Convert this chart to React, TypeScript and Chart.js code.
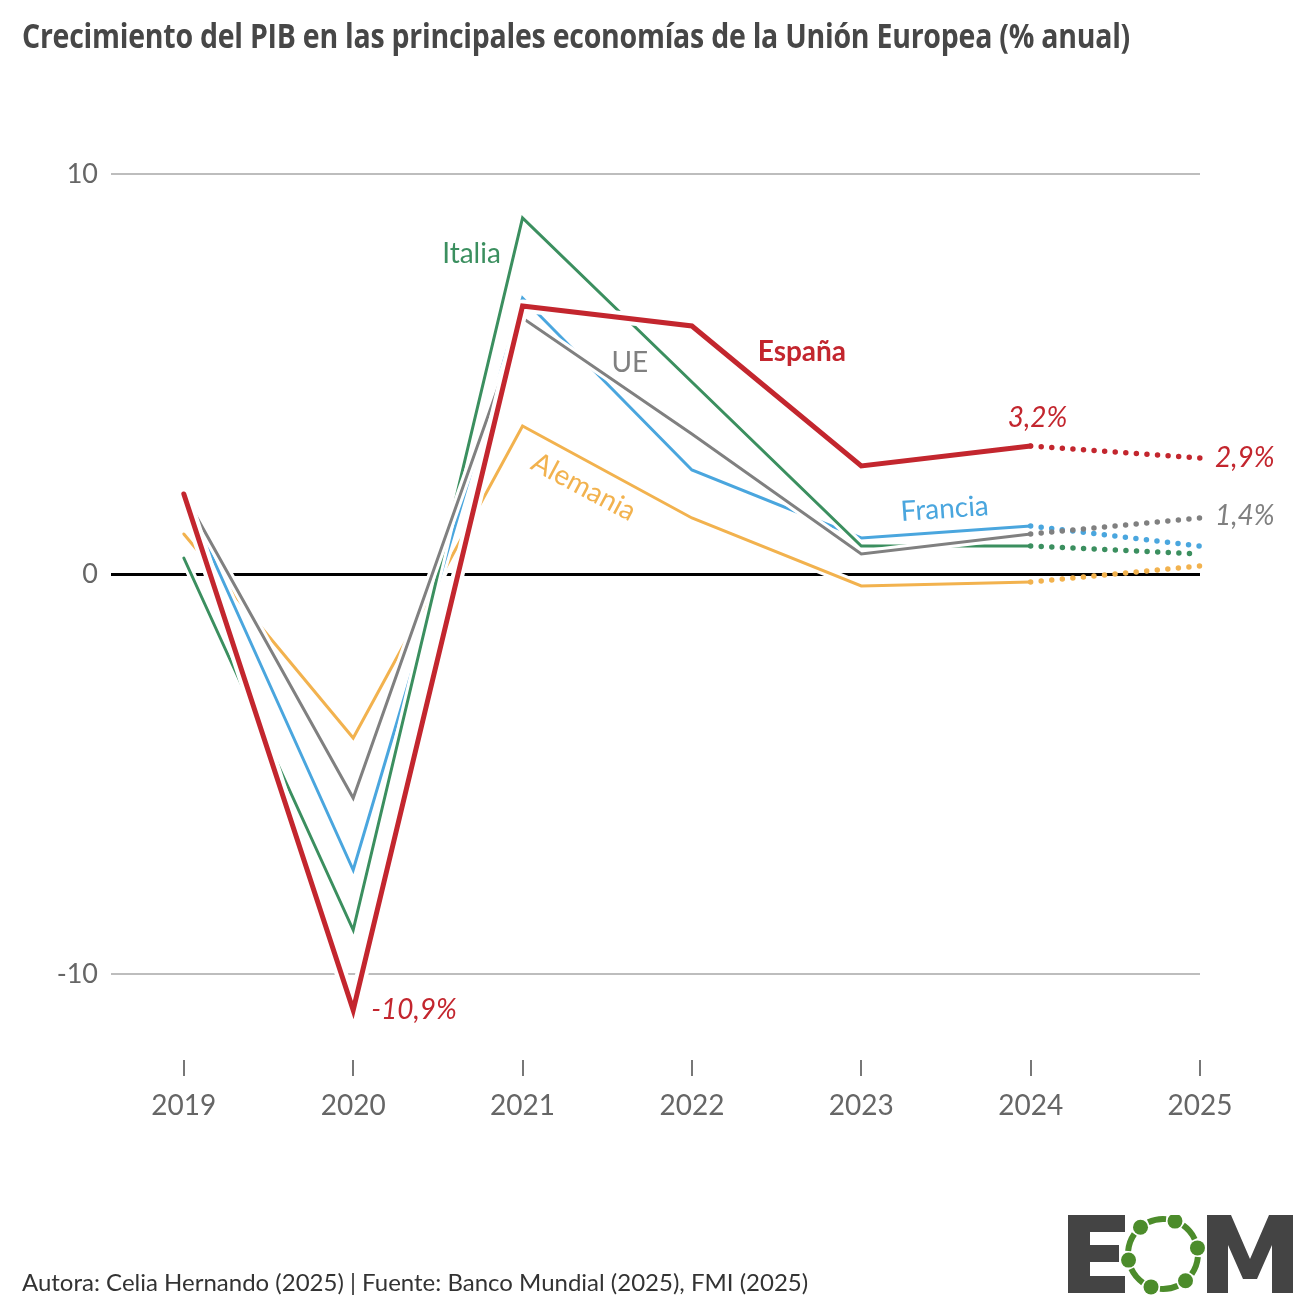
import React, { useEffect, useLayoutEffect, useRef } from "react";
import { Chart, registerables } from "chart.js";

Chart.register(...registerables);

// Annual GDP growth (%) — 2025 is a forecast (drawn dotted)
const YEARS = [2019, 2020, 2021, 2022, 2023, 2024, 2025];
const ESPANA = [2.0, -10.9, 6.7, 6.2, 2.7, 3.2, 2.9];
const ITALIA = [0.4, -8.9, 8.9, 4.8, 0.7, 0.7, 0.5];
const FRANCIA = [2.0, -7.4, 6.9, 2.6, 0.9, 1.2, 0.7];
const UE = [2.0, -5.6, 6.4, 3.5, 0.5, 1.0, 1.4];
const ALEMANIA = [1.0, -4.1, 3.7, 1.4, -0.3, -0.2, 0.2];
const Y_TICKS = [-10, 0, 10];

const TITLE = "Crecimiento del PIB en las principales economías de la Unión Europea (% anual)";
const FOOTER = "Autora: Celia Hernando (2025) | Fuente: Banco Mundial (2025), FMI (2025)";

const RED = "#C3262E";
const GREEN = "#3B8F5F";
const BLUE = "#4AA6DE";
const GRAY = "#808080";
const ORANGE = "#F2B24E";

const FONT = "Lato, 'Open Sans', sans-serif";
const FORECAST_FROM = 5; // index of the last observed year (2024)

const toPoints = (vals: number[], upto = vals.length) =>
  vals.slice(0, upto).map((v, i) => ({ x: YEARS[i], y: v }));

const fmt = (v: number) => v.toFixed(1).replace(".", ",") + "%";

function lineSet(vals: number[], color: string, width: number, order: number) {
  return {
    data: toPoints(vals),
    borderColor: color,
    borderWidth: width,
    pointRadius: 0,
    pointHoverRadius: 0,
    fill: false,
    tension: 0,
    clip: false as const,
    borderCapStyle: "round" as const,
    borderJoinStyle: "miter" as const,
    order,
    segment: {
      borderDash: (ctx: any) => (ctx.p0DataIndex >= FORECAST_FROM ? [0, 10.6] : undefined),
      borderWidth: (ctx: any) => (ctx.p0DataIndex >= FORECAST_FROM ? 5.5 : undefined),
    },
  };
}

// White outline under each solid line, so crossing lines look cut
function haloSet(vals: number[], width: number, order: number) {
  return {
    data: toPoints(vals, FORECAST_FROM + 1),
    borderColor: "#ffffff",
    borderWidth: width,
    pointRadius: 0,
    pointHoverRadius: 0,
    fill: false,
    tension: 0,
    clip: false as const,
    borderCapStyle: "round" as const,
    borderJoinStyle: "round" as const,
    order,
  };
}

const labelsPlugin = {
  id: "seriesLabels",
  afterDatasetsDraw(chart: any) {
    const { ctx, scales } = chart;
    const at = (i: number, vals: number[]) => [
      scales.x.getPixelForValue(YEARS[i]),
      scales.y.getPixelForValue(vals[i]),
    ];
    const draw = (
      text: string,
      x: number,
      y: number,
      color: string,
      font: string,
      align: CanvasTextAlign = "center",
      rot = 0
    ) => {
      ctx.save();
      ctx.translate(x, y);
      ctx.rotate((rot * Math.PI) / 180);
      ctx.font = font;
      ctx.fillStyle = color;
      ctx.textAlign = align;
      ctx.textBaseline = "middle";
      ctx.fillText(text, 0, 0);
      ctx.restore();
    };
    const reg = `28px ${FONT}`;
    const ital = `italic 28px ${FONT}`;

    let [x, y] = at(2, ITALIA);
    draw("Italia", x - 51, y + 36, GREEN, reg);
    [x, y] = at(3, UE);
    draw("UE", x - 62, y - 71, GRAY, reg);
    [x, y] = at(3, ESPANA);
    draw("España", x + 110, y + 26, RED, `bold 28px ${FONT}`);
    [x, y] = at(5, FRANCIA);
    draw("Francia", x - 86, y - 17, BLUE, reg, "center", -4);
    [x, y] = at(2, ALEMANIA);
    draw("Alemania", x + 61, y + 61, ORANGE, reg, "center", 28);

    [x, y] = at(1, ESPANA);
    draw(fmt(ESPANA[1]), x + 18, y, RED, ital, "left");
    [x, y] = at(5, ESPANA);
    draw(fmt(ESPANA[5]), x + 7, y - 28, RED, ital);
    [x, y] = at(6, ESPANA);
    draw(fmt(ESPANA[6]), x + 15, y, RED, ital, "left");
    [x, y] = at(6, UE);
    draw(fmt(UE[6]), x + 15, y - 2, GRAY, ital, "left");
  },
};

function Logo() {
  const cx = 95;
  const cy = 39;
  const r = 35;
  const dots = [-10, 50, 110, 170, 230, 290];
  const p = (deg: number) => {
    const a = (deg * Math.PI) / 180;
    return [cx + r * Math.cos(a), cy + r * Math.sin(a)];
  };
  return (
    <svg width="226" height="80" style={{ position: "absolute", left: 1068, top: 1215 }}>
      <path d="M0,0 H57 V17 H22 V30 H51 V47 H22 V61 H57 V78 H0 Z" fill="#444444" />
      <path
        d="M139,0 H163 L182,44 L201,0 H225 V78 H204 V30 L189,64 H175 L160,30 V78 H139 Z"
        fill="#444444"
      />
      {dots.map((d, i) => {
        const [x1, y1] = p(d + 15);
        const [x2, y2] = p(d + 45);
        return (
          <path
            key={"a" + i}
            d={`M${x1},${y1} A${r},${r} 0 0 1 ${x2},${y2}`}
            stroke="#4C8C2B"
            strokeWidth={6}
            fill="none"
          />
        );
      })}
      {dots.map((d, i) => {
        const [x, y] = p(d);
        return <circle key={"d" + i} cx={x} cy={y} r={7.5} fill="#4C8C2B" />;
      })}
    </svg>
  );
}

export default function App() {
  const canvasRef = useRef<HTMLCanvasElement | null>(null);
  const titleRef = useRef<HTMLSpanElement | null>(null);

  useLayoutEffect(() => {
    const fit = () => {
      const el = titleRef.current;
      if (!el) return;
      el.style.transform = "none";
      const w = el.getBoundingClientRect().width;
      if (w > 0) el.style.transform = `scaleX(${1108 / w})`;
    };
    fit();
    (document as any).fonts?.ready?.then(fit);
  }, []);

  useEffect(() => {
    if (!canvasRef.current) return;
    const chart = new Chart(canvasRef.current, {
      type: "line",
      data: {
        datasets: [
          lineSet(ESPANA, RED, 5, 0),
          haloSet(ESPANA, 13, 1),
          lineSet(UE, GRAY, 3, 2),
          haloSet(UE, 9, 3),
          lineSet(ITALIA, GREEN, 3, 4),
          haloSet(ITALIA, 9, 5),
          lineSet(FRANCIA, BLUE, 3, 6),
          haloSet(FRANCIA, 9, 7),
          lineSet(ALEMANIA, ORANGE, 3, 8),
          haloSet(ALEMANIA, 9, 9),
        ] as any,
      },
      options: {
        animation: false,
        responsive: false,
        events: [],
        layout: { padding: { top: 174, right: 110, bottom: 0, left: 0 } },
        plugins: { legend: { display: false }, tooltip: { enabled: false }, title: { display: false } },
        scales: {
          x: {
            type: "linear",
            min: 2018.57,
            max: 2025,
            afterBuildTicks: (s: any) => {
              s.ticks = YEARS.map((v) => ({ value: v }));
            },
            afterFit: (s: any) => {
              s.height = 250;
            },
            border: { display: false },
            grid: {
              drawOnChartArea: false,
              drawTicks: true,
              tickLength: 16,
              color: "#777777",
              lineWidth: 2,
            },
            ticks: {
              padding: 13,
              color: "#666666",
              font: { family: FONT, size: 28 },
              callback: (v: any) => String(v),
              maxRotation: 0,
              autoSkip: false,
            },
          },
          y: {
            type: "linear",
            min: -12.15,
            max: 10,
            afterBuildTicks: (s: any) => {
              s.ticks = Y_TICKS.map((v) => ({ value: v }));
            },
            afterFit: (s: any) => {
              s.width = 111;
            },
            border: { display: false },
            grid: {
              drawTicks: false,
              color: (c: any) => (c.tick && c.tick.value === 0 ? "#000000" : "#bdbdbd"),
              lineWidth: (c: any) => (c.tick && c.tick.value === 0 ? 3 : 2),
            },
            ticks: {
              padding: 13,
              color: "#666666",
              font: { family: FONT, size: 27 },
              callback: (v: any) => String(v),
            },
          },
        },
      },
      plugins: [labelsPlugin],
    } as any);
    return () => chart.destroy();
  }, []);

  return (
    <div
      style={{
        position: "absolute",
        left: 0,
        top: 0,
        width: 1310,
        height: 1310,
        background: "#ffffff",
        overflow: "hidden",
      }}
    >
      <canvas ref={canvasRef} width={1310} height={1310} style={{ position: "absolute", left: 0, top: 0 }} />
      <div
        style={{
          position: "absolute",
          left: 22,
          top: 13,
          height: 44,
          lineHeight: "44px",
          whiteSpace: "nowrap",
        }}
      >
        <span
          ref={titleRef}
          style={{
            display: "inline-block",
            transformOrigin: "0 50%",
            fontFamily: "'Open Sans', sans-serif",
            fontWeight: 700,
            fontSize: 34,
            color: "#474747",
            letterSpacing: -0.3,
          }}
        >
          {TITLE}
        </span>
      </div>
      <div
        style={{
          position: "absolute",
          left: 22,
          top: 1266,
          lineHeight: "32px",
          whiteSpace: "nowrap",
          fontFamily: FONT,
          fontSize: 24,
          color: "#333333",
        }}
      >
        {FOOTER}
      </div>
      <Logo />
    </div>
  );
}
